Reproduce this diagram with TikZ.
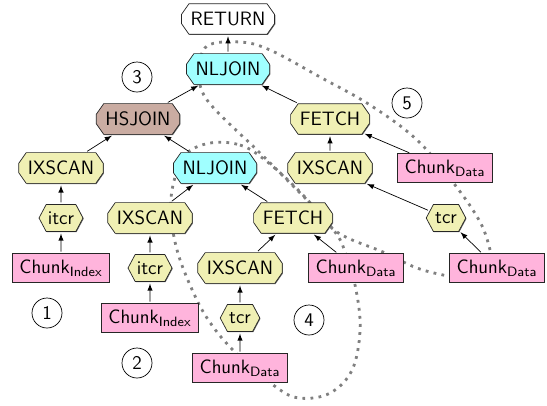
\documentclass[tikz,border=0pt]{standalone}
\usepackage{xcolor}
\usepackage{tikz}
\usetikzlibrary{arrows,shapes,positioning,shadows}

\definecolor{scanfill}{RGB}{240,240,180}
\definecolor{joinfill}{RGB}{160,255,255}
\definecolor{hashfill}{RGB}{202,172,162}
\definecolor{chunkfill}{RGB}{255,180,220}

\begin{document}
\begin{tikzpicture}[node distance=1cm, on grid,
        every node/.style={font=\sffamily\fontsize{11}{13}\selectfont},
        opbox/.style={chamfered rectangle, chamfered rectangle angle=35,
            chamfered rectangle xsep=2.86pt, chamfered rectangle ysep=2pt,
            draw=black!85, inner xsep=2.4pt, inner ysep=2.7pt,
            general shadow={shadow xshift=0.4pt, shadow yshift=-0.4pt, fill=black!60}},
        scan/.style={opbox, fill=scanfill},
        cursor/.style={signal, signal to=east and west, signal pointer angle=124, draw=black!85,
            fill=scanfill, inner xsep=1pt, inner ysep=1pt, minimum height=0.54cm,
            general shadow={shadow xshift=0.4pt, shadow yshift=-0.4pt, fill=black!60}},
        chunk/.style={rectangle, draw=black!85, fill=chunkfill, inner xsep=4pt, minimum height=0.54cm,
            general shadow={shadow xshift=0.4pt, shadow yshift=-0.4pt, fill=black!60}},
        segno/.style={circle, draw, inner sep=0pt, minimum size=0.6cm},
        flow/.style={-latex, shorten >=1pt, shorten <=1pt},
        segline/.style={gray, line width=1.6pt, dash pattern=on 1.6pt off 3pt}]
            \useasboundingbox (0,0) rectangle (10.94,-8.1);

            % segment boundaries (drawn first, the nodes cover them)
            \begin{scope}[x=0.02cm, y=-0.02cm]
                \draw[segline] plot[smooth cycle, tension=0.6] coordinates {
                    (210,143) (240,145) (265,160) (300,192) (335,232) (346,255) (356,290) (360,330)
                    (352,370) (330,393) (300,398) (276,387) (233,350) (207,318) (190,285) (177,250)
                    (171,215) (173,185) (185,155)};
                \draw[segline] plot[smooth, tension=0.6] coordinates {
                    (468,279) (448,276) (417,268) (383,252) (337,232) (307,200) (260,153) (207,100)
                    (200,70) (207,46) (240,42) (270,50) (320,77) (370,105) (417,140) (455,185)
                    (480,222) (490,250) (492,265)};
            \end{scope}

            \node[opbox, fill=white] (ret) at (4.56,-0.38) {RETURN};
            \node[opbox, fill=joinfill, below=of ret] (nljoinA) {NLJOIN};
            \node[opbox, fill=hashfill, below left=1cm and 1.8cm of nljoinA] (hsjoin) {HSJOIN};
            \node[scan, below left=0.98cm and 1.54cm of hsjoin] (ixscanA) {IXSCAN};
            \node[cursor, below=of ixscanA] (itcrA) {itcr};
            \node[chunk, below=of itcrA] (indexA) {Chunk\textsubscript{Index}};
            \node[opbox, fill=joinfill, below right=0.98cm and 1.54cm of hsjoin] (nljoinB) {NLJOIN};
            \node[scan, below left=1cm and 1.3cm of nljoinB] (ixscanB) {IXSCAN};
            \node[cursor, below=of ixscanB] (itcrB) {itcr};
            \node[chunk, below=of itcrB] (indexB) {Chunk\textsubscript{Index}};
            \node[scan, below right=1cm and 1.56cm of nljoinB] (fetchB) {FETCH};
            \node[scan, below left=1cm and 1.06cm of fetchB] (ixscanC) {IXSCAN};
            \node[cursor, below=of ixscanC] (tcrC) {tcr};
            \node[chunk, below=of tcrC] (dataC) {Chunk\textsubscript{Data}};
            \node[chunk, below right=1cm and 1.26cm of fetchB] (dataB) {Chunk\textsubscript{Data}};
            \node[scan, below right=1cm and 2.04cm of nljoinA] (fetchA) {FETCH};
            \node[scan, below=0.98cm of fetchA] (ixscanD) {IXSCAN};
            \node[chunk, right=2.3cm of ixscanD] (dataA) {Chunk\textsubscript{Data}};
            \node[cursor, below right=1cm and 2.32cm of ixscanD] (tcrD) {tcr};
            \node[chunk, below right=1cm and 1.02cm of tcrD] (dataD) {Chunk\textsubscript{Data}};

            \node[segno] (seg1) at (0.94,-6.26) {1};
            \node[segno] (seg2) at (2.74,-7.26) {2};
            \node[segno] (seg3) at (2.74,-1.54) {3};
            \node[segno] (seg4) at (6.18,-6.4) {4};
            \node[segno] (seg5) at (8.14,-2.06) {5};

            \draw[flow] (nljoinA) -- (ret);
            \draw[flow] (hsjoin) -- (nljoinA);
            \draw[flow] (fetchA) -- (nljoinA);
            \draw[flow] (ixscanA) -- (hsjoin);
            \draw[flow] (nljoinB) -- (hsjoin);
            \draw[flow] (itcrA) -- (ixscanA);
            \draw[flow] (indexA) -- (itcrA);
            \draw[flow] (ixscanB) -- (nljoinB);
            \draw[flow] (fetchB) -- (nljoinB);
            \draw[flow] (itcrB) -- (ixscanB);
            \draw[flow] (indexB) -- (itcrB);
            \draw[flow] (ixscanC) -- (fetchB);
            \draw[flow] (dataB) -- (fetchB);
            \draw[flow] (tcrC) -- (ixscanC);
            \draw[flow] (dataC) -- (tcrC);
            \draw[flow] (ixscanD) -- (fetchA);
            \draw[flow] (dataA) -- (fetchA);
            \draw[flow] (tcrD) -- (ixscanD);
            \draw[flow] (dataD) -- (tcrD);
\end{tikzpicture}
\end{document}
